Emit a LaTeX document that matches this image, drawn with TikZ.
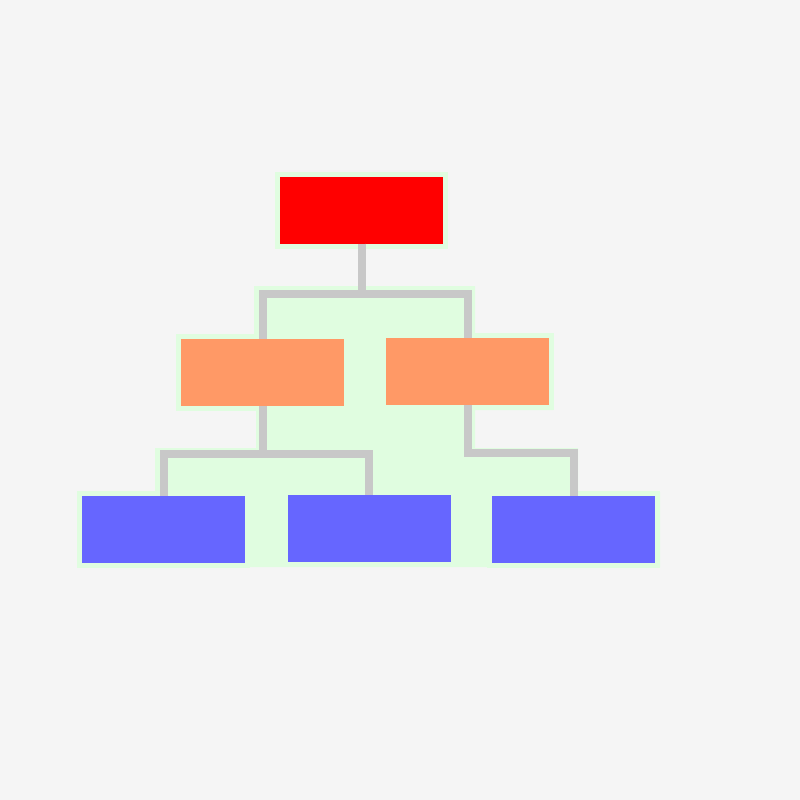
\documentclass[tikz,border=0pt]{standalone}
\usepackage{xcolor}
\usepackage{tikz}

\definecolor{bgcol}{HTML}{F5F5F5}
\definecolor{halo}{HTML}{E0FDE0}
\definecolor{linkgray}{HTML}{C8C8C8}
\definecolor{topred}{HTML}{FF0000}
\definecolor{midorange}{HTML}{FF9966}
\definecolor{lowblue}{HTML}{6666FF}

\begin{document}
\begin{tikzpicture}[x=1pt,y=-1pt]
        \def\bw{168pt} %box width, halo line included
        \def\bh{72pt} %box height, halo line included
        \def\drop{48} %drop from a box to its bar
        \tikzset{
            box/.style={draw=halo, line width=5pt, minimum width=\bw, minimum height=\bh,
                inner sep=0pt, outer sep=-2.5pt},
            link/.style={draw=linkgray, line width=8pt, line join=miter}
        }

        \fill[bgcol] (0,0) rectangle (800,800); % page
        % light green area behind the tree
        \fill[halo] (254,286) -- (475,286) -- (475,334) -- (553,334) -- (553,410)
            -- (475,410) -- (475,448) -- (578,448) -- (578,492) -- (660,492)
            -- (660,567) -- (78,567) -- (78,492) -- (155,492) -- (155,448)
            -- (256,448) -- (256,410) -- (177,410) -- (177,334) -- (254,334) -- cycle;

        \node[box, fill=topred] (top) at (361.5,210) {};
        \node[box, fill=midorange] (mid1) at (262.5,372.5) {};
        \node[box, fill=midorange] (mid2) at (467.5,371.5) {};
        \foreach \i/\x/\y in {1/163.5/529.5, 2/369/528.5, 3/573.5/529.5}
        {
            \node[box, fill=lowblue] (low\i) at (\x,\y) {};
        }

        \draw[link] (top.south) -- ++(0,50) -| (mid1.north);
        \draw[link] (top.south) -- ++(0,50) -| (mid2.north);
        \draw[link] (mid1.south) -- ++(0,\drop) -| (low1.north);
        \draw[link] (mid1.south) -- ++(0,\drop) -| (low2.north);
        \draw[link] (mid2.south) -- ++(0,\drop) -| (low3.north);
    \end{tikzpicture}
\end{document}
